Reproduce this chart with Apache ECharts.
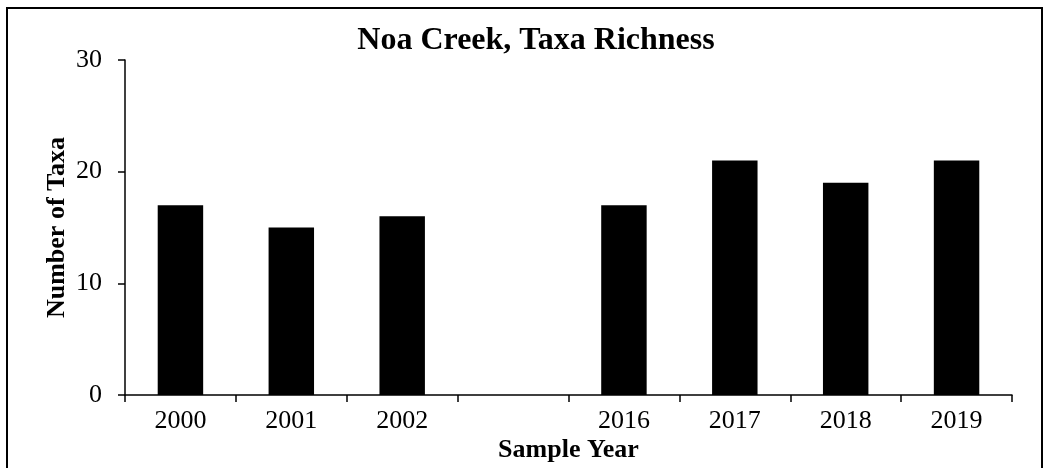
<!DOCTYPE html>
<html>
<head>
<meta charset="utf-8">
<script src="https://cdn.jsdelivr.net/npm/echarts@6/dist/echarts.min.js"></script>
<style>
html,body{margin:0;padding:0;background:#fff;}
#c{width:1044px;height:468px;}
</style>
</head>
<body>
<div id="c"></div>
<script>
const categories = ['2000', '2001', '2002', '', '2016', '2017', '2018', '2019'];
const taxaValues = [17, 15, 16, null, 17, 21, 19, 21];
const yTicks = [0, 10, 20, 30];

const chart = echarts.init(document.getElementById('c'), null, {renderer: 'canvas'});
const font = '"Liberation Serif", "Times New Roman", serif';
chart.setOption({
  animation: false,
  backgroundColor: '#fff',
  title: {
    text: 'Noa Creek, Taxa Richness',
    left: 531, top: 20, textAlign: 'center',
    textStyle: {fontFamily: font, fontSize: 32, fontWeight: 'bold', color: '#000'}
  },
  graphic: [{
    type: 'rect', silent: true,
    shape: {x: 7, y: 8, width: 1035, height: 500},
    style: {fill: 'none', stroke: '#000', lineWidth: 2}
  }],
  grid: {left: 125, right: 32, top: 60, bottom: 73, containLabel: false, outerBoundsMode: 'none'},
  xAxis: {
    type: 'category',
    data: categories,
    name: 'Sample Year',
    nameLocation: 'middle',
    nameGap: 42,
    nameMoveOverlap: false,
    nameTextStyle: {fontFamily: font, fontSize: 26, fontWeight: 'bold', color: '#000'},
    axisLine: {lineStyle: {color: '#000', width: 1.5}},
    axisTick: {show: true, alignWithLabel: false, length: 7, lineStyle: {color: '#000', width: 1.5}},
    axisLabel: {fontFamily: font, fontSize: 26, color: '#000', margin: 13, interval: 0}
  },
  yAxis: {
    type: 'value',
    min: yTicks[0], max: yTicks[yTicks.length - 1], interval: 10,
    name: 'Number of Taxa',
    nameLocation: 'middle',
    nameGap: 55,
    nameMoveOverlap: false,
    nameTextStyle: {fontFamily: font, fontSize: 26, fontWeight: 'bold', color: '#000'},
    axisLine: {show: true, lineStyle: {color: '#000', width: 1.5}},
    axisTick: {show: true, length: 7, lineStyle: {color: '#000', width: 1.5}},
    axisLabel: {fontFamily: font, fontSize: 26, color: '#000', margin: 23},
    splitLine: {show: false}
  },
  series: [{
    type: 'bar',
    data: taxaValues,
    barWidth: '41%',
    itemStyle: {color: '#000'}
  }]
});
</script>
</body>
</html>
